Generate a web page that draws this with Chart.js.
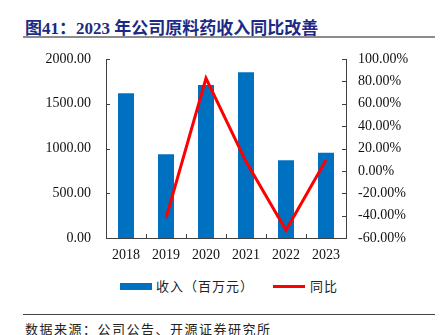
<!DOCTYPE html>
<html>
<head>
<meta charset="utf-8">
<script src="https://cdn.jsdelivr.net/npm/chart.js@4"></script>
<style>
  html, body { margin: 0; padding: 0; background: #fff; }
  #wrap { position: relative; width: 440px; height: 335px; overflow: hidden; }
  .title {
    position: absolute; left: 25px; top: 14px;
    font: bold 17px "Liberation Serif", "Noto Sans CJK SC", serif;
    color: #1c2a86; white-space: nowrap;
  }
  .rule-top { position: absolute; left: 23px; top: 36px; width: 412px; height: 2px; background: #8c8c8c; }
  .rule-bot { position: absolute; left: 23px; top: 314px; width: 412px; height: 1px; background: #444; }
  .source {
    position: absolute; left: 25px; top: 319px;
    font: 13px "Noto Sans CJK SC", sans-serif; letter-spacing: 1.5px; color: #222; white-space: nowrap;
  }
  #chartBox { position: absolute; left: 0; top: 0; width: 440px; height: 270px; }
  .legend { position: absolute; top: 277px; left: 0; width: 440px; height: 20px;
    font: 13px "Noto Sans CJK SC", sans-serif; color: #222; letter-spacing: 1px; }
  .legend .item { position: absolute; top: 0; white-space: nowrap; line-height: 18px; }
  .swatch-bar { display: inline-block; width: 32px; height: 7px; background: #0070c0; vertical-align: middle; margin-right: 4px; position: relative; top: -1px; }
  .swatch-line { display: inline-block; width: 32px; height: 3px; background: #ff0000; vertical-align: middle; margin-right: 5px; position: relative; top: -1px; }
</style>
</head>
<body>
<div id="wrap">
  <div class="title">图41：2023 年公司原料药收入同比改善</div>
  <div class="rule-top"></div>
  <div id="chartBox"><canvas id="mainChart" width="440" height="270"></canvas></div>
  <div class="legend" id="legend"></div>
  <div class="rule-bot"></div>
  <div class="source">数据来源：公司公告、开源证券研究所</div>
</div>
<script>
// data
const years = ["2018", "2019", "2020", "2021", "2022", "2023"];
const revenue = [1616, 935, 1709, 1851, 868, 953];   // 收入（百万元）
const yoy = [null, -42.2, 82.8, 8.3, -53.1, 9.8];      // 同比 (%)

const revenueLabel = "收入（百万元）";
const yoyLabel = "同比";

const leftMin = 0, leftMax = 2000, leftStep = 500;
const rightMin = -60, rightMax = 100, rightStep = 20;

const axisColor = "#404040";
const tickFont = { family: "'Liberation Serif', 'Times New Roman', serif", size: 14 };

// --- inward tick marks, drawn from the scales ---
const innerTicks = {
  id: "innerTicks",
  afterDraw(chart) {
    const { ctx, chartArea: a, scales } = chart;
    ctx.save();
    ctx.strokeStyle = axisColor;
    ctx.lineWidth = 1;
    ctx.beginPath();
    scales.y.ticks.forEach((t, i) => {
      const py = Math.round(scales.y.getPixelForTick(i)) + 0.5;
      ctx.moveTo(a.left, py);
      ctx.lineTo(a.left + 4, py);
    });
    scales.y1.ticks.forEach((t, i) => {
      const py = Math.round(scales.y1.getPixelForTick(i)) + 0.5;
      ctx.moveTo(a.right - 4, py);
      ctx.lineTo(a.right, py);
    });
    const n = scales.x.ticks.length;
    for (let i = 0; i < n - 1; i++) {
      const px = Math.round((scales.x.getPixelForTick(i) + scales.x.getPixelForTick(i + 1)) / 2) + 0.5;
      ctx.moveTo(px, a.bottom);
      ctx.lineTo(px, a.bottom - 4);
    }
    ctx.stroke();
    ctx.restore();
  }
};

const ctx = document.getElementById("mainChart").getContext("2d");
const chart = new Chart(ctx, {
  data: {
    labels: years,
    datasets: [
      {
        type: "line",
        label: yoyLabel,
        data: yoy,
        yAxisID: "y1",
        borderColor: "#ff0000",
        borderWidth: 3,
        pointRadius: 0,
        tension: 0,
        spanGaps: false,
        order: 1
      },
      {
        type: "bar",
        label: revenueLabel,
        data: revenue,
        yAxisID: "y",
        backgroundColor: "#0070c0",
        borderWidth: 0,
        barPercentage: 0.4,
        categoryPercentage: 1,
        order: 2
      }
    ]
  },
  options: {
    responsive: false,
    animation: false,
    devicePixelRatio: 1,
    layout: { padding: { top: 59, bottom: 0, left: 0, right: 0 } },
    plugins: {
      legend: { display: false },
      title: { display: false },
      tooltip: { enabled: false }
    },
    scales: {
      x: {
        grid: { display: false, drawTicks: false },
        border: { display: true, color: axisColor, width: 1 },
        ticks: { font: tickFont, color: "#111", padding: 9, maxRotation: 0 },
        afterFit(s) { s.height = 32; }
      },
      y: {
        position: "left",
        min: leftMin, max: leftMax,
        grid: { display: false, drawTicks: false },
        border: { display: true, color: axisColor, width: 1 },
        ticks: {
          stepSize: leftStep, font: tickFont, color: "#111", padding: 15,
          callback: v => v.toFixed(2)
        },
        afterFit(s) { s.width = 106; }
      },
      y1: {
        position: "right",
        min: rightMin, max: rightMax,
        grid: { display: false, drawTicks: false },
        border: { display: true, color: axisColor, width: 1 },
        ticks: {
          stepSize: rightStep, font: tickFont, color: "#111", padding: 12,
          callback: v => v.toFixed(2) + "%"
        },
        afterFit(s) { s.width = 94; }
      }
    }
  },
  plugins: [innerTicks]
});

// --- legend (HTML, from dataset labels) ---
const legend = document.getElementById("legend");
legend.innerHTML = `
  <span class="item" style="left:120px"><span class="swatch-bar"></span>${revenueLabel}</span>
  <span class="item" style="left:273px"><span class="swatch-line"></span>${yoyLabel}</span>
`;
</script>
</body>
</html>
